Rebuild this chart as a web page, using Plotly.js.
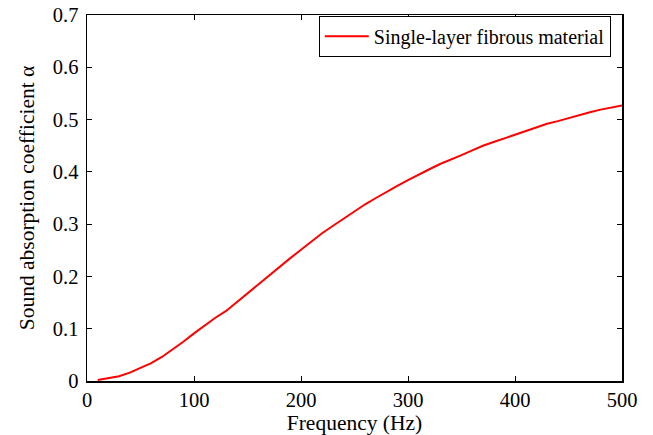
<!DOCTYPE html>
<html>
<head>
<meta charset="utf-8">
<script src="https://cdn.plot.ly/plotly-3.0.1.min.js"></script>
<style>html,body{margin:0;padding:0;background:#fff;}#chart{width:653px;height:435px;}</style>
</head>
<body>
<div id="chart"></div>
<script>
const frequency = [10,20,30,40,50,60,70,80,90,100,110,120,130,140,150,160,170,180,190,200,210,220,230,240,250,260,270,280,290,300,310,320,330,340,350,360,370,380,390,400,410,420,430,440,450,460,470,480,490,500];
const absorption = [0.002,0.005,0.009,0.016,0.025,0.034,0.046,0.060,0.075,0.091,0.106,0.121,0.134,0.151,0.167,0.185,0.201,0.219,0.235,0.251,0.267,0.283,0.297,0.311,0.325,0.338,0.350,0.362,0.373,0.384,0.395,0.405,0.415,0.423,0.432,0.441,0.450,0.457,0.464,0.471,0.478,0.485,0.492,0.497,0.503,0.509,0.514,0.519,0.523,0.527];
const seriesName = "Single-layer fibrous material";
const xTitle = "Frequency (Hz)";
const yTitle = "Sound absorption coefficient α";

const fam = "Liberation Serif, Times New Roman, serif";
const font = {family: fam, size: 20.5, color: "#000"};
const legendFont = {family: fam, size: 20, color: "#000"};
const titleFont = {family: fam, size: 21.5, color: "#000"};
const axisCommon = {
  showline: true, linecolor: "#000", linewidth: 1.5, mirror: "ticks",
  ticks: "inside", ticklen: 5, tickwidth: 1, tickcolor: "#000",
  showgrid: false, zeroline: false, tickfont: font
};
Plotly.newPlot("chart", [{
  x: frequency, y: absorption, type: "scatter", mode: "lines",
  name: seriesName, line: {color: "#ff0000", width: 2}
}], {
  width: 653, height: 435,
  margin: {l: 87, r: 31, t: 15, b: 54},
  paper_bgcolor: "#fff", plot_bgcolor: "#fff",
  font: font,
  showlegend: true,
  legend: {x: 0.979, y: 0.998, xanchor: "right", yanchor: "top",
    bordercolor: "#000", borderwidth: 1, bgcolor: "#fff", font: legendFont,
    tracegroupgap: 0, itemwidth: 44},
  xaxis: Object.assign({}, axisCommon, {range: [0, 500], tickvals: [0,100,200,300,400,500],
    title: {text: xTitle, font: titleFont, standoff: 6}}),
  yaxis: Object.assign({}, axisCommon, {range: [0, 0.7], tickvals: [0,0.1,0.2,0.3,0.4,0.5,0.6,0.7],
    ticktext: ["0","0.1","0.2","0.3","0.4","0.5","0.6","0.7"], ticklabelstandoff: 3,
    title: {text: yTitle, font: titleFont, standoff: 12}})
}, {displayModeBar: false, staticPlot: true});
</script>
</body>
</html>
